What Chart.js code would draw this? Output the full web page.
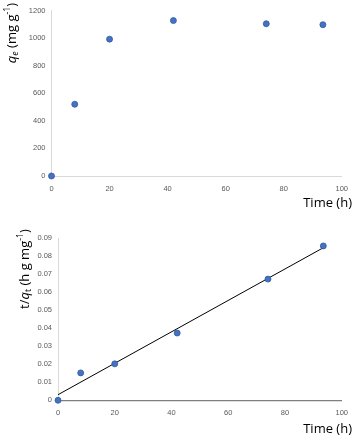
<!DOCTYPE html>
<html>
<head>
<meta charset="utf-8">
<script src="https://cdn.jsdelivr.net/npm/chart.js@4.4.0/dist/chart.umd.min.js"></script>
<style>
  html, body { margin: 0; padding: 0; background: #fff; }
  #wrap { position: relative; width: 356px; height: 437px; }
  #wrap canvas { position: absolute; left: 0; }
  #top { top: 0; }
  #bottom { top: 210px; }
</style>
</head>
<body>
<div id="wrap">
  <canvas id="top" width="356" height="210"></canvas>
  <canvas id="bottom" width="356" height="227"></canvas>
</div>
<script>
// values
var timeH = [0, 8, 20, 42, 74, 93.5];
var qeValues = [0, 520, 992, 1127, 1104, 1097];
var tqValues = [0, 0.0152, 0.0202, 0.0373, 0.0672, 0.0856];
var trendTime = [0, 93.5];
var trendValues = [0.0031, 0.0846];

var tickFont = { family: "'Liberation Sans', Arial, sans-serif", size: 7.5 };
var tickColor = '#595959';
var titleFamily = "'Open Sans', 'Liberation Sans', sans-serif";

function toPoints(xs, ys) {
	var pts = [];
	for (var i = 0; i < xs.length; i++) pts.push({ x: xs[i], y: ys[i] });
	return pts;
}

// draws a rotated title made of pieces (italic / sub / sup)
function drawRich(ctx, parts, cx, cy, size, rotate) {
	ctx.save();
	ctx.translate(cx, cy);
	if (rotate) ctx.rotate(-Math.PI / 2);
	ctx.fillStyle = '#000';
	ctx.textBaseline = 'alphabetic';
	ctx.textAlign = 'left';
	var w = 0;
	parts.forEach(function(p) {
		var fs = (p.sub || p.sup) ? size * 0.68 : size;
		p.font = (p.italic ? 'italic ' : '') + fs + 'px ' + titleFamily;
		ctx.font = p.font;
		p.w = ctx.measureText(p.t).width;
		w += p.w;
	});
	var x = -w / 2, base = size * 0.35;
	parts.forEach(function(p) {
		ctx.font = p.font;
		var dy = p.sub ? size * 0.22 : (p.sup ? -size * 0.42 : 0);
		ctx.fillText(p.t, x, base + dy);
		x += p.w;
	});
	ctx.restore();
}

function titlesPlugin(yParts, yx, yy, xTitleY) {
	return {
		id: 'titles',
		afterDraw: function(chart) {
			var ctx = chart.ctx;
			drawRich(ctx, yParts, yx, yy, 13, true);
			ctx.save();
			ctx.font = '13px ' + titleFamily;
			ctx.fillStyle = '#000';
			ctx.textAlign = 'right';
			ctx.textBaseline = 'middle';
			ctx.fillText('Time (h)', 352, xTitleY);
			ctx.restore();
		}
	};
}

function makeChart(id, datasets, yOpts, pad, yWidth, xHeight, xBorder, plugin) {
	var ctx = document.getElementById(id).getContext('2d');
	return new Chart(ctx, {
		type: 'scatter',
		data: { datasets: datasets },
		options: {
			responsive: false,
			animation: false,
			devicePixelRatio: 1,
			layout: { padding: pad },
			plugins: { legend: { display: false }, tooltip: { enabled: false } },
			scales: {
				x: {
					type: 'linear', min: 0, max: 100,
					ticks: { stepSize: 20, font: tickFont, color: tickColor, padding: 8, maxRotation: 0 },
					grid: { display: false, drawTicks: false },
					border: { display: true, color: xBorder.color, width: xBorder.width },
					afterFit: function(s) { s.height = xHeight; }
				},
				y: {
					type: 'linear', min: yOpts.min, max: yOpts.max,
					ticks: { stepSize: yOpts.step, font: tickFont, color: tickColor, padding: 6, callback: yOpts.fmt },
					grid: { display: false, drawTicks: false },
					border: { display: true, color: '#d9d9d9', width: 1 },
					afterFit: function(s) { s.width = yWidth; }
				}
			}
		},
		plugins: [plugin]
	});
}

var dotStyle = {
	pointRadius: 3,
	pointBackgroundColor: '#4472C4',
	pointBorderColor: '#2F5597',
	pointBorderWidth: 0.75,
	showLine: false,
	clip: false
};

makeChart('top',
	[Object.assign({ data: toPoints(timeH, qeValues) }, dotStyle)],
	{ min: 0, max: 1200, step: 200, fmt: function(v) { return v; } },
	{ top: 7, right: 10, left: 0, bottom: 0 },
	51.5, 34, { color: '#d9d9d9', width: 1 },
	titlesPlugin([
		{ t: 'q', italic: true },
		{ t: 'e', italic: true, sub: true },
		{ t: ' (mg g' },
		{ t: '-1', sup: true },
		{ t: ')' }
	], 11, 33, 203.5)
);

makeChart('bottom',
	[
		Object.assign({ data: toPoints(timeH, tqValues), order: 1 }, dotStyle),
		{
			data: toPoints(trendTime, trendValues),
			showLine: true, pointRadius: 0,
			borderColor: '#000', borderWidth: 1, order: 2
		}
	],
	{ min: 0, max: 0.09, step: 0.01, fmt: function(v) { return +v.toFixed(2); } },
	{ top: 28, right: 9, left: 0, bottom: 0 },
	58, 36.7, { color: '#7f7f7f', width: 1.25 },
	titlesPlugin([
		{ t: 't/' },
		{ t: 'q', italic: true },
		{ t: 't', sub: true },
		{ t: ' (h g mg' },
		{ t: '-1', sup: true },
		{ t: ')' }
	], 24, 59, 219)
);
</script>
</body>
</html>
